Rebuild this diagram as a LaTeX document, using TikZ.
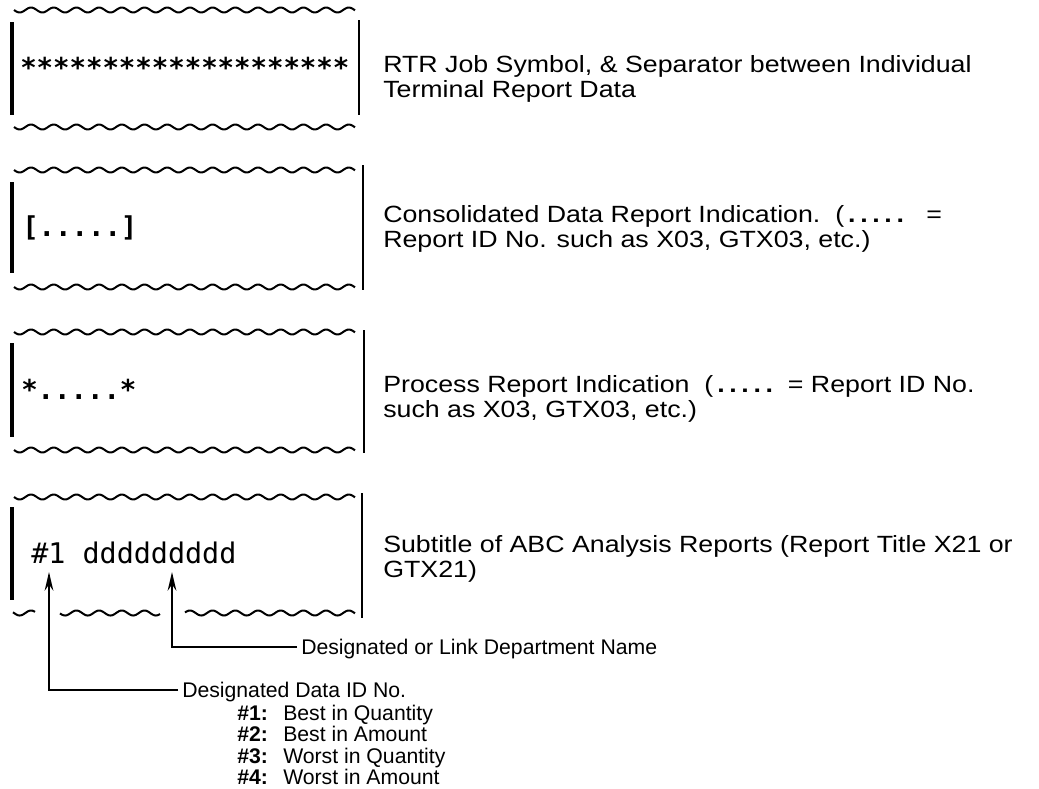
\documentclass[tikz,border=0pt]{standalone}
\usepackage{fontspec}
\setmainfont{Liberation Sans}
\newfontfamily\descf[FakeStretch=1.14]{Liberation Sans}
\newfontfamily\monof{DejaVu Sans Mono}
\usetikzlibrary{arrows.meta}
\newcommand\wavyline[3]{\draw[wave] plot[domain=#1:#2,samples=240] (\x,{#3+2.5*sin((\x-14)*15.859)});}
\newcommand\bdots{\textbf{.}\hspace{3.5pt}\textbf{.}\hspace{3.5pt}\textbf{.}\hspace{3.5pt}\textbf{.}\hspace{3.5pt}\textbf{.}}
\begin{document}
\begin{tikzpicture}[x=0.75pt,y=-0.75pt,
  wave/.style={line width=1.5pt, line join=round},
  lbar/.style={line width=3pt},
  rbar/.style={line width=2.2pt},
  desc/.style={anchor=base west, inner sep=0pt, font=\descf\fontsize{17.6}{18.75}\selectfont},
  mono/.style={anchor=base west, inner sep=0pt, font=\monof\fontsize{20.5}{24}\selectfont},
  lbl/.style={anchor=west, inner sep=3pt, text depth=0pt, font=\fontsize{15.9}{15.9}\selectfont},
  arr/.style={line width=1.5pt, -{Stealth[length=14pt,width=6.5pt]}}]
\useasboundingbox (0,0) rectangle (1039,789);
% panel 1
\wavyline{14}{355}{10}
\wavyline{14}{355}{127}
\draw[lbar] (12,22) -- (12,115);
\draw[rbar] (359,20) -- (359,115);
\node[mono, font=\monof\bfseries\fontsize{20.5}{24}\selectfont] (p1) at (20,77) {********************};
\node[desc] (d1) at (383,72) {\begin{tabular}[t]{@{}l@{}}RTR Job Symbol, \& Separator between Individual\\Terminal Report Data\end{tabular}};
% panel 2
\wavyline{14}{355}{170}
\wavyline{14}{355}{287}
\draw[lbar] (12,182) -- (12,273);
\draw[rbar] (363,165) -- (363,290);
\node[mono, font=\monof\bfseries\fontsize{20.5}{24}\selectfont] (p2) at (22,236) {[.....]};
\node[desc] (d2) at (383,222) {\begin{tabular}[t]{@{}l@{}}Consolidated Data Report Indication.\ \ (\,\bdots\ \ \ =\\Report ID No. such as X03, GTX03, etc.)\end{tabular}};
% panel 3
\wavyline{14}{355}{332}
\wavyline{14}{355}{450}
\draw[lbar] (12,343) -- (12,437);
\draw[rbar] (364,330) -- (364,453);
\node[mono, font=\monof\bfseries\fontsize{20.5}{24}\selectfont] (p3) at (21,399) {*.....*};
\node[desc] (d3) at (383,392) {\begin{tabular}[t]{@{}l@{}}Process Report Indication\ \ (\,\bdots\ \ = Report ID No.\\such as X03, GTX03, etc.)\end{tabular}};
% panel 4
\wavyline{14}{355}{497}
\wavyline{13}{35}{613}
\wavyline{60}{160}{613}
\wavyline{185}{355}{613}
\draw[lbar] (12,507) -- (12,600);
\draw[rbar] (362,493) -- (362,618);
\node[mono, font=\monof\fontsize{21.3}{24}\selectfont] (p4) at (31,563) {\#1 ddddddddd};
\node[desc] (d4) at (383,552) {\begin{tabular}[t]{@{}l@{}}Subtitle of ABC Analysis Reports (Report Title X21 or\\GTX21)\end{tabular}};
% callouts
\coordinate (tipA) at (49,572);
\coordinate (tipB) at (172,572);
\node[lbl] (lblB) at (297,647) {Designated or Link Department Name};
\node[lbl] (lblA) at (178,690) {Designated Data ID No.};
\draw[arr] (lblB.west) -| (tipB);
\draw[arr] (lblA.west) -| (tipA);
\node[anchor=base west, inner sep=0pt, font=\fontsize{15.9}{15.75}\selectfont] (lst) at (237,720)
  {\begin{tabular}[t]{@{}p{34.5pt}@{}l@{}}
   \textbf{\#1:} & Best in Quantity\\
   \textbf{\#2:} & Best in Amount\\
   \textbf{\#3:} & Worst in Quantity\\
   \textbf{\#4:} & Worst in Amount
   \end{tabular}};
\end{tikzpicture}
\end{document}
